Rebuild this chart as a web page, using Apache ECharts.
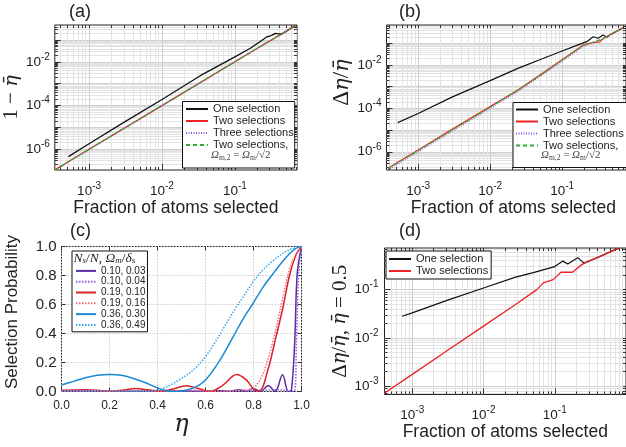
<!DOCTYPE html>
<html><head><meta charset="utf-8">
<script src="https://cdn.jsdelivr.net/npm/echarts@6/dist/echarts.min.js"></script>
<style>html,body{margin:0;padding:0;background:#fff}#c{width:626px;height:447px}</style>
</head><body><div id="c"></div>
<script>
// ================= DATA =================
// (a) 1 - eta_bar vs fraction of atoms selected  [fraction, value]
const aOne = [[5.2e-4,4.6e-7],[1e-3,1.8e-6],[3e-3,1.7e-5],[1e-2,1.9e-4],[3.4e-2,2.4e-3],[0.1,0.017],[0.163,0.042],[0.22,0.083],[0.276,0.142],[0.30,0.15],[0.324,0.169],[0.359,0.203],[0.40,0.19],[0.443,0.19],[0.466,0.22],[0.55,0.3],[0.71,0.5]];
const aTwo = [[3.4e-4,1.15e-7],[1e-3,1.0e-6],[1e-2,1.0e-4],[0.1,0.0102],[0.2,0.041],[0.3,0.091],[0.4,0.16],[0.5,0.25],[0.71,0.5]];
const aThree = [[3.4e-4,1.1e-7],[1e-3,9.8e-7],[1e-2,9.9e-5],[0.1,0.0101],[0.3,0.09],[0.5,0.25],[0.71,0.5]];
const aTwoHalf = [[3.4e-4,1.12e-7],[1e-3,9.9e-7],[1e-2,1.0e-4],[0.1,0.0101],[0.3,0.09],[0.5,0.25],[0.71,0.5]];
// (b) delta eta / eta_bar
const bOne = [[5.2e-4,2.2e-5],[1e-3,5.8e-5],[3e-3,3.4e-4],[1e-2,1.9e-3],[0.0243,7.0e-3],[0.05,0.018],[0.1,0.044],[0.16,0.08],[0.22,0.119],[0.271,0.2],[0.317,0.17],[0.37,0.24],[0.42,0.19],[0.457,0.24],[0.7,0.51]];
const bTwo = [[3.8e-4,1.75e-7],[1e-3,1.2e-6],[3e-3,1.1e-5],[1e-2,1.2e-4],[0.0243,7.0e-4],[0.05,3.5e-3],[0.1,0.0175],[0.198,0.0836],[0.265,0.107],[0.333,0.115],[0.378,0.17],[0.457,0.24],[0.7,0.51]];
const bThree = [[3.8e-4,1.45e-7],[1e-3,1.0e-6],[1e-2,1.0e-4],[0.0243,6.0e-4],[0.1,0.015],[0.198,0.072],[0.3,0.125],[0.378,0.165],[0.457,0.24],[0.7,0.51]];
const bTwoHalf = [[3.8e-4,1.7e-7],[1e-3,1.15e-6],[1e-2,1.15e-4],[0.0243,6.8e-4],[0.1,0.017],[0.198,0.08],[0.265,0.11],[0.333,0.145],[0.378,0.17],[0.457,0.24],[0.7,0.51]];
// (c) selection probability vs eta  [eta, probability]
const c010_003 = [[0,0.001],[0.3,0.002],[0.5,0.003],[0.6,0.002],[0.66,0.006],[0.7,0.001],[0.74,0.012],[0.77,0.001],[0.8,0.02],[0.83,0.0],[0.861,0.042],[0.89,0.0],[0.921,0.115],[0.945,0.0],[0.958,0.01],[0.972,0.354],[0.982,0.81],[1.0,1.0]];
const c010_004 = [[0,0.001],[0.5,0.001],[0.8,0.003],[0.85,0.008],[0.9,0.012],[0.94,0.005],[0.969,0.0],[0.979,0.354],[0.988,0.81],[1.0,1.0]];
const c019_010 = [[0,0.008],[0.05,0.011],[0.1,0.012],[0.15,0.008],[0.2,0.002],[0.25,0.008],[0.31,0.02],[0.36,0.012],[0.41,0.0],[0.46,0.015],[0.52,0.04],[0.57,0.02],[0.62,0.0],[0.67,0.04],[0.73,0.117],[0.77,0.08],[0.805,0.01],[0.825,0.005],[0.86,0.15],[0.89,0.35],[0.923,0.583],[0.95,0.8],[0.979,0.95],[1.0,1.0]];
const c019_016 = [[0,0.002],[0.2,0.003],[0.4,0.002],[0.55,0.01],[0.6,0.004],[0.68,0.0],[0.74,0.01],[0.78,0.01],[0.805,0.03],[0.84,0.124],[0.882,0.354],[0.923,0.652],[0.958,0.883],[1.0,1.0]];
const c036_030 = [[0,0.045],[0.05,0.07],[0.1,0.095],[0.15,0.112],[0.2,0.118],[0.25,0.112],[0.3,0.09],[0.35,0.06],[0.4,0.025],[0.43,0.008],[0.46,0.0],[0.5,0.004],[0.55,0.025],[0.6,0.08],[0.66,0.216],[0.715,0.377],[0.76,0.51],[0.798,0.607],[0.84,0.72],[0.882,0.814],[0.92,0.895],[0.951,0.952],[0.98,0.99],[1.0,1.0]];
const c036_049 = [[0,0.004],[0.1,0.006],[0.2,0.004],[0.3,0.001],[0.35,0.0],[0.38,0.005],[0.42,0.02],[0.46,0.05],[0.5,0.09],[0.55,0.15],[0.6,0.24],[0.64,0.34],[0.68,0.45],[0.72,0.56],[0.76,0.66],[0.8,0.76],[0.84,0.84],[0.88,0.9],[0.92,0.95],[0.96,0.985],[1.0,1.0]];
// (d) delta eta / eta_bar at eta_bar = 0.5
const dOne = [[7.2e-4,0.028],[1e-3,0.033],[3e-3,0.059],[1e-2,0.108],[0.0275,0.18],[0.05,0.225],[0.1,0.3],[0.13,0.39],[0.152,0.34],[0.21,0.46],[0.243,0.38],[0.26,0.355],[0.45,0.5],[0.68,0.66],[0.8,0.72]];
const dTwo = [[4.1e-4,7.2e-4],[1e-3,1.75e-3],[3e-3,5.3e-3],[1e-2,0.0175],[0.0275,0.048],[0.056,0.1],[0.069,0.138],[0.095,0.161],[0.122,0.229],[0.176,0.229],[0.24,0.33],[0.26,0.355],[0.45,0.5],[0.68,0.66],[0.8,0.72]];
// tick labels
const fracTickExps = [-3, -2, -1];
const abTickExps = [-6, -4, -2];
const dTickExps = [-3, -2, -1];
const cTicks = [0, 0.2, 0.4, 0.6, 0.8, 1.0];
// legend names
const abNames = ['One selection', 'Two selections', 'Three selections', 'Two selections,'];
const cNames = ['0.10, 0.03', '0.10, 0.04', '0.19, 0.10', '0.19, 0.16', '0.36, 0.30', '0.36, 0.49'];
const dNames = ['One selection', 'Two selections'];

// ================= BUILD =================
const F = 'Liberation Sans', SERIF = 'Liberation Serif', GSERIF = 'DejaVu Serif', TXT = '#222';
const L10 = Math.log10;
const xAxes = [], yAxes = [];
const expRich = { b: { fontSize: 13.5, lineHeight: 20, fontFamily: F, color: TXT }, s: { fontSize: 10, lineHeight: 11, verticalAlign: 'top', fontFamily: F, color: TXT } };
const expFmt = v => '{b|10}{s|' + Math.round(v) + '}';

function logAxes(dim, g, min, max, labelExps, extra, margin) {
  const majors = [], minors = [];
  for (let e = Math.floor(min); e <= Math.ceil(max); e++)
    for (let k = 1; k <= 9; k++) { const v = e + L10(k); if (v >= min && v <= max) (k === 1 ? majors : minors).push(v); }
  const isX = dim === 'x';
  const common = { type: 'value', gridIndex: g, min, max, axisLine: { show: false, onZero: false } };
  const arr = isX ? xAxes : yAxes;
  const idx = arr.length;
  arr.push(Object.assign({}, common, { position: isX ? 'bottom' : 'left',
    axisTick: { show: true, inside: true, length: 6, customValues: majors, lineStyle: { color: '#333' } },
    splitLine: { show: true, lineStyle: { color: '#cfcfcf', width: 1 } },
    axisLabel: { customValues: labelExps, margin, formatter: expFmt, rich: expRich }
  }, extra));
  arr.push(Object.assign({}, common, { position: isX ? 'bottom' : 'left',
    axisTick: { show: true, inside: true, length: 3, customValues: minors, lineStyle: { color: '#333' } },
    splitLine: { show: true, lineStyle: { color: '#e3e3e3', width: 1 } }, axisLabel: { show: false } }));
  arr.push(Object.assign({}, common, { position: isX ? 'top' : 'right',
    axisTick: { show: true, inside: true, length: 3, customValues: majors.concat(minors), lineStyle: { color: '#333' } },
    splitLine: { show: false }, axisLabel: { show: false } }));
  return idx;
}
function linAxes(dim, g, extra, labelSize, margin) {
  const isX = dim === 'x';
  const arr = isX ? xAxes : yAxes;
  const idx = arr.length;
  const common = { type: 'value', gridIndex: g, min: 0, max: 1, interval: 0.2, axisLine: { show: false, onZero: false } };
  arr.push(Object.assign({}, common, { position: isX ? 'bottom' : 'left',
    axisTick: { show: true, inside: true, length: 4, customValues: cTicks, lineStyle: { color: '#333' } },
    splitLine: { show: true, lineStyle: { color: '#cccccc', type: [1.5, 1.5] } },
    axisLabel: { customValues: cTicks, margin, fontSize: labelSize, fontFamily: F, color: TXT, formatter: v => v.toFixed(1) }
  }, extra));
  arr.push(Object.assign({}, common, { position: isX ? 'top' : 'right',
    axisTick: { show: true, inside: true, length: 4, customValues: cTicks, lineStyle: { color: '#333' } },
    splitLine: { show: false }, axisLabel: { show: false } }));
  return idx;
}
const nameSans = { fontFamily: F, fontSize: 17.5, color: TXT };
const serifRich = sz => ({
  n: { fontFamily: SERIF, fontSize: sz, color: TXT },
  i: { fontFamily: GSERIF, fontStyle: 'italic', fontSize: sz * 0.92, color: TXT }
});

const grids = [
  { left: 53.5, top: 25, width: 243.5, height: 145 },
  { left: 386.5, top: 25, width: 243.5, height: 145 },
  { left: 61.5, top: 246.5, width: 240, height: 145 },
  { left: 384.5, top: 248, width: 250.5, height: 146.5 }
].map(g => Object.assign(g, { show: true, borderColor: '#222', borderWidth: 1, backgroundColor: 'transparent' }));

const xa = logAxes('x', 0, -3.47, -0.148, fracTickExps, { name: 'Fraction of atoms selected', nameLocation: 'middle', nameGap: 27, nameTextStyle: nameSans }, 11);
const ya = logAxes('y', 0, -6.95, -0.31, abTickExps, { name: '{n|1 − }{i|η̄}', nameLocation: 'middle', nameRotate: 90, nameGap: 29, nameTextStyle: { rich: serifRich(21) } }, 5);
const xb = logAxes('x', 1, -3.44, -0.112, fracTickExps, { name: 'Fraction of atoms selected', nameLocation: 'middle', nameGap: 27, nameTextStyle: Object.assign({ padding: [0, 0, 0, 14] }, nameSans) }, 11);
const yb = logAxes('y', 1, -6.84, -0.157, abTickExps, { name: '{n|Δ}{i|η}{n|/}{i|η̄}', nameLocation: 'middle', nameRotate: 90, nameGap: 30, nameTextStyle: { padding: [0, 0, 0, 30], rich: serifRich(23) } }, 5);
const xc = linAxes('x', 2, { name: 'η', nameLocation: 'middle', nameGap: 20, nameTextStyle: { fontFamily: GSERIF, fontStyle: 'italic', fontSize: 24, color: TXT } }, 12, 8);
const yc = linAxes('y', 2, { name: 'Selection Probability', nameLocation: 'middle', nameRotate: 90, nameGap: 41, nameTextStyle: { fontFamily: F, fontSize: 17, color: TXT, padding: [0, 0, 0, 14] } }, 15, 5);
const xd = logAxes('x', 3, -3.39, 0, dTickExps, { name: 'Fraction of atoms selected', nameLocation: 'middle', nameGap: 24, nameTextStyle: nameSans }, 11);
const yd = logAxes('y', 3, -3.174, -0.137, dTickExps, { name: '{n|Δ}{i|η}{n|/}{i|η̄}{n|, }{i|η̄}{n| = 0.5}', nameLocation: 'middle', nameRotate: 90, nameGap: 30, nameTextStyle: { rich: serifRich(21) } }, 6);

const BLACK = '#111', RED = '#ee2222', PURPLE = '#8f55e0', GREEN = '#2fb02f';
const NOFILL = 'rgba(0,0,0,0)';
function ser(name, pts, xi, yi, color, width, type, log, smooth) {
  return { type: 'line', name, xAxisIndex: xi, yAxisIndex: yi,
    data: log ? pts.map(p => [L10(p[0]), L10(p[1])]) : pts,
    symbol: 'none', showSymbol: false, smooth: smooth || false, animation: false,
    lineStyle: { color, width, type }, itemStyle: { color: NOFILL, borderColor: NOFILL, borderWidth: 0 } };
}
const series = [
  ser('One selection', aOne, xa, ya, BLACK, 1.3, 'solid', true),
  ser('Two selections', aTwo, xa, ya, RED, 1.3, 'solid', true),
  ser('Three selections', aThree, xa, ya, PURPLE, 1.2, [1, 1.5], true),
  ser('Two selections,', aTwoHalf, xa, ya, GREEN, 1.3, [4, 3], true),
  ser('One selection', bOne, xb, yb, BLACK, 1.2, 'solid', true),
  ser('Two selections', bTwo, xb, yb, RED, 1.3, 'solid', true),
  ser('Three selections', bThree, xb, yb, PURPLE, 1.2, [1, 1.5], true),
  ser('Two selections,', bTwoHalf, xb, yb, GREEN, 1.3, [4, 3], true),
  ser(cNames[0], c010_003, xc, yc, '#5b2ca0', 1.5, 'solid', false, 0.35),
  ser(cNames[1], c010_004, xc, yc, '#8a5fd8', 1.5, [1.5, 1.5], false, 0.35),
  ser(cNames[2], c019_010, xc, yc, '#d8222a', 1.5, 'solid', false, 0.35),
  ser(cNames[3], c019_016, xc, yc, '#ee6f78', 1.5, [1.5, 1.5], false, 0.35),
  ser(cNames[4], c036_030, xc, yc, '#1a8ad4', 1.5, 'solid', false, 0.35),
  ser(cNames[5], c036_049, xc, yc, '#3aa8e8', 1.5, [1.5, 1.5], false, 0.35),
  ser('One selection', dOne, xd, yd, BLACK, 1.2, 'solid', true),
  ser('Two selections', dTwo, xd, yd, RED, 1.3, 'solid', true)
];

const legBase = { orient: 'vertical', itemGap: 0, itemWidth: 22, itemHeight: 10, selectedMode: false,
  borderColor: '#111', borderWidth: 1, borderRadius: 0, backgroundColor: '#fff', z: 10,
  itemStyle: { color: NOFILL, borderColor: NOFILL, borderWidth: 0, opacity: 0 },
  textStyle: { fontFamily: F, fontSize: 11, lineHeight: 12, color: TXT } };
const legends = [
  Object.assign({}, legBase, { data: abNames, left: 182.5, top: 101.5, padding: [1.5, 1, 17, 2.5] }),
  Object.assign({}, legBase, { data: abNames, left: 513, top: 102.5, padding: [1, 8, 16, 2] }),
  Object.assign({}, legBase, { data: cNames, left: 72, top: 251, itemWidth: 20, padding: [14.5, 2, 1.5, 3], textStyle: { fontFamily: F, fontSize: 10, lineHeight: 10.8, color: TXT } }),
  Object.assign({}, legBase, { data: dNames, left: 386, top: 251, padding: [2, 3, 2, 2] })
];

const fRich = { i: { fontFamily: SERIF, fontStyle: 'italic', fontSize: 11, fill: '#444', lineHeight: 13 }, n: { fontFamily: SERIF, fontSize: 11, fill: '#444', lineHeight: 13 }, s: { fontFamily: SERIF, fontSize: 7.5, fill: '#444', lineHeight: 8, verticalAlign: 'bottom' } };
const formula = '{i|Ω}{s|m,2}{n| = }{i|Ω}{s|m}{n|/√2}';
const hRich = { i: { fontFamily: SERIF, fontStyle: 'italic', fontSize: 13.5, fill: TXT, lineHeight: 14 }, n: { fontFamily: SERIF, fontSize: 13.5, fill: TXT, lineHeight: 14 }, s: { fontFamily: SERIF, fontStyle: 'italic', fontSize: 9, fill: TXT, lineHeight: 9, verticalAlign: 'bottom' } };
const graphic = [
  { type: 'text', left: 211, top: 150, z: 100, style: { text: formula, rich: fRich } },
  { type: 'text', left: 541, top: 150, z: 100, style: { text: formula, rich: fRich } },
  { type: 'text', left: 73.5, top: 251.5, z: 100, style: { text: '{i|N}{s|s}{n|/}{i|N}{n|, }{i|Ω}{s|m}{n|/}{i|δ}{s|s}', rich: hRich } }
];

const tStyle = { fontFamily: F, fontSize: 18, fontWeight: 'normal', color: TXT };
const titles = [
  { text: '(a)', left: 69, top: 3 }, { text: '(b)', left: 399, top: 3 },
  { text: '(c)', left: 70, top: 222 }, { text: '(d)', left: 399, top: 222 }
].map(t => Object.assign(t, { padding: 0, textStyle: tStyle }));

const chart = echarts.init(document.getElementById('c'), null, { renderer: 'canvas', devicePixelRatio: 1 });
chart.setOption({ animation: false, backgroundColor: '#fff', title: titles, grid: grids, xAxis: xAxes, yAxis: yAxes, series, legend: legends, graphic });
</script></body></html>
